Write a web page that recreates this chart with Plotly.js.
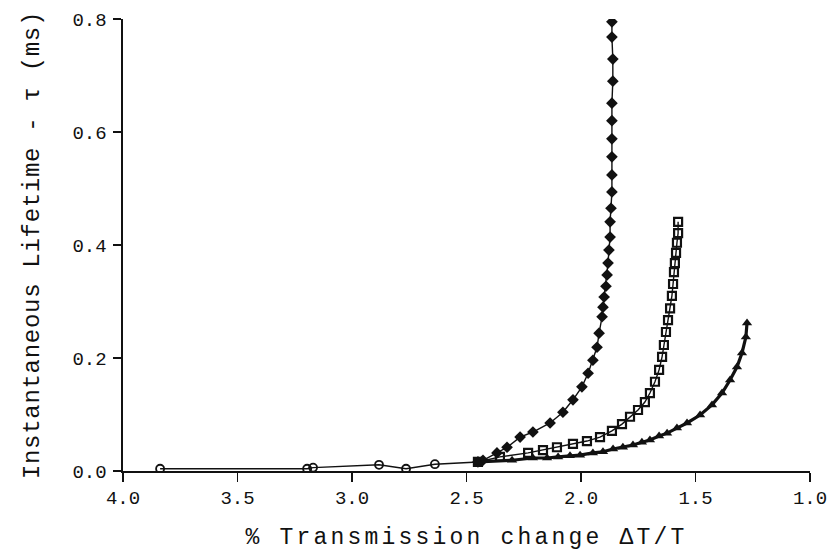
<!DOCTYPE html>
<html>
<head>
<meta charset="utf-8">
<script src="https://cdn.plot.ly/plotly-3.0.1.min.js"></script>
<style>
  html, body { margin: 0; padding: 0; background: #fff; }
  #chart { width: 835px; height: 552px; }
  .xtitle { letter-spacing: 3.2px; }
  .ytitle { letter-spacing: 0.7px; }
</style>
</head>
<body>
<div id="chart"></div>
<script>
// Shared starting points (all three runs coincide at large ΔT/T)
const baseX = [3.838, 3.196, 3.170, 2.882, 2.764, 2.638, 2.450];
const baseY = [0.004, 0.004, 0.006, 0.011, 0.004, 0.012, 0.016];

// Run 1: filled diamonds, steepest curve
const run1X = [2.450, 2.428, 2.367, 2.323, 2.266, 2.210, 2.135, 2.079, 2.035, 1.996, 1.969,
               1.948, 1.930, 1.921, 1.908, 1.904, 1.899, 1.891, 1.886, 1.882, 1.878, 1.873,
               1.873, 1.869, 1.865, 1.865, 1.865, 1.865, 1.865, 1.865, 1.861, 1.861, 1.865, 1.865];
const run1Y = [0.016, 0.019, 0.032, 0.042, 0.060, 0.069, 0.085, 0.104, 0.126, 0.149, 0.173,
               0.196, 0.219, 0.244, 0.273, 0.290, 0.308, 0.327, 0.347, 0.368, 0.391, 0.414,
               0.441, 0.465, 0.494, 0.524, 0.556, 0.588, 0.620, 0.651, 0.690, 0.729, 0.768, 0.795];

// Run 2: open squares, middle curve
const run2X = [2.450, 2.354, 2.231, 2.166, 2.105, 2.035, 1.974, 1.917, 1.865, 1.821, 1.786,
               1.751, 1.721, 1.699, 1.677, 1.659, 1.646, 1.638, 1.629, 1.620, 1.611, 1.603,
               1.598, 1.594, 1.590, 1.585, 1.581, 1.576, 1.576];
const run2Y = [0.016, 0.025, 0.032, 0.037, 0.042, 0.048, 0.053, 0.060, 0.071, 0.083, 0.096,
               0.108, 0.122, 0.138, 0.158, 0.179, 0.202, 0.223, 0.246, 0.267, 0.288, 0.310,
               0.331, 0.352, 0.368, 0.386, 0.404, 0.421, 0.441];

// Run 3: filled triangles, shallowest curve
const run3X = [2.450, 2.301, 2.210, 2.148, 2.100, 2.048, 2.004, 1.948, 1.904, 1.860, 1.817,
               1.773, 1.734, 1.699, 1.659, 1.624, 1.581, 1.537, 1.480, 1.428, 1.384, 1.349,
               1.319, 1.297, 1.280, 1.275];
const run3Y = [0.016, 0.019, 0.023, 0.023, 0.025, 0.027, 0.028, 0.032, 0.034, 0.039, 0.042,
               0.046, 0.051, 0.055, 0.062, 0.067, 0.076, 0.085, 0.099, 0.117, 0.138, 0.161,
               0.184, 0.209, 0.237, 0.262];

const xTickVals = [4.0, 3.5, 3.0, 2.5, 2.0, 1.5, 1.0];
const xTickText = ['4.0', '3.5', '3.0', '2.5', '2.0', '1.5', '1.0'];
const yTickVals = [0.0, 0.2, 0.4, 0.6, 0.8];
const yTickText = ['0.0', '0.2', '0.4', '0.6', '0.8'];

const ink = '#111';
const mono = '"Liberation Mono", "DejaVu Sans Mono", monospace';

const traces = [
  {
    x: baseX, y: baseY, mode: 'lines+markers',
    line: { color: ink, width: 1.4 },
    marker: { symbol: 'circle-open', size: 8, color: ink, line: { width: 1.8, color: ink } }
  },
  {
    x: run1X, y: run1Y, mode: 'lines+markers',
    line: { color: ink, width: 1.4 },
    marker: { symbol: 'diamond', size: 9, color: ink }
  },
  {
    x: run2X, y: run2Y, mode: 'lines+markers',
    line: { color: ink, width: 1.4 },
    marker: { symbol: 'square-open', size: 8, color: ink, line: { width: 2.2, color: ink } }
  },
  {
    x: run3X, y: run3Y, mode: 'lines+markers',
    line: { color: ink, width: 3.2 },
    marker: { symbol: 'triangle-up', size: 9, color: ink }
  }
];

const layout = {
  width: 835, height: 552,
  margin: { l: 123, r: 25, t: 19, b: 81 },
  paper_bgcolor: '#fff', plot_bgcolor: '#fff',
  showlegend: false,
  font: { family: mono, color: ink, size: 19 },
  xaxis: {
    range: [4.0, 1.0],
    tickmode: 'array', tickvals: xTickVals, ticktext: xTickText,
    showgrid: false, zeroline: false,
    showline: true, linecolor: ink, linewidth: 1.6, mirror: false,
    ticks: 'outside', ticklen: 9, tickwidth: 1.4, tickcolor: ink,
    tickfont: { family: mono, size: 19, color: ink },
    title: { text: '% Transmission change ΔT/T', font: { family: mono, size: 23, color: ink }, standoff: 18 }
  },
  yaxis: {
    range: [0, 0.8],
    tickmode: 'array', tickvals: yTickVals, ticktext: yTickText,
    showgrid: false, zeroline: false,
    showline: true, linecolor: ink, linewidth: 1.6, mirror: false,
    ticks: 'outside', ticklen: 8, tickwidth: 1.4, tickcolor: ink,
    ticklabelstandoff: 3,
    tickfont: { family: mono, size: 19, color: ink },
    title: { text: 'Instantaneous Lifetime - τ (ms)', font: { family: mono, size: 24, color: ink }, standoff: 26 }
  }
};

Plotly.newPlot('chart', traces, layout, { staticPlot: true, displayModeBar: false });
</script>
</body>
</html>
